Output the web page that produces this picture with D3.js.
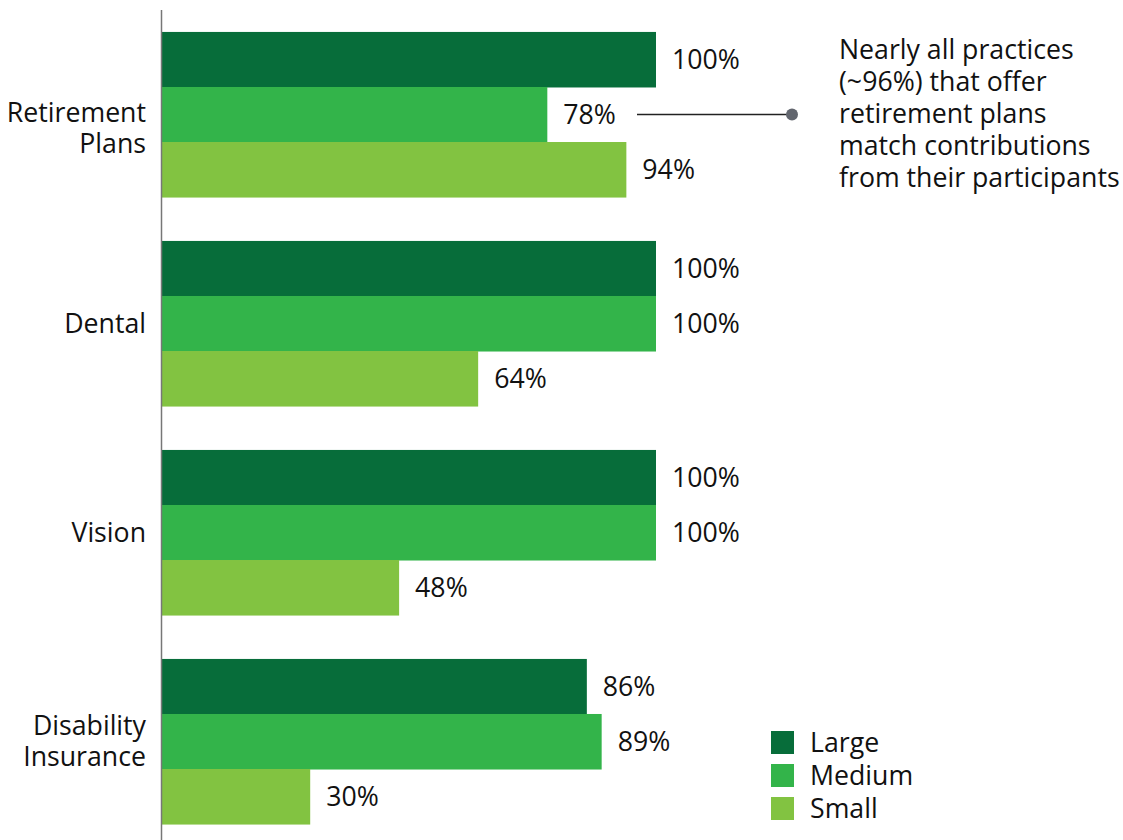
<!DOCTYPE html>
<html><head><meta charset="utf-8">
<script src="https://cdn.jsdelivr.net/npm/d3@7"></script>
<style>body{margin:0;background:#fff}svg{display:block;font-family:"Open Sans",sans-serif}</style>
</head><body>
<svg id="c" width="1123" height="840"></svg>
<script>
const categories = [["Retirement","Plans"],["Dental"],["Vision"],["Disability","Insurance"]];
const catKeys = ["Retirement Plans","Dental","Vision","Disability Insurance"];
const series = ["Large","Medium","Small"];
const large = [100,100,100,86];
const medium = [78,100,100,89];
const small = [94,64,48,30];
const colors = ["#076d3a","#33b44a","#82c341"];
const annotation = ["Nearly all practices","(~96%) that offer","retirement plans","match contributions","from their participants"];

const values = [large, medium, small];
const FS = 26.7;
const svg = d3.select("#c");
const x = d3.scaleLinear().domain([0,100]).range([162,656]);
const y = d3.scaleBand().domain(catKeys).range([10,846]).paddingInner(0.21).paddingOuter(0.105);
const ys = d3.scaleBand().domain(series).range([0,y.bandwidth()]);

const rows = [];
catKeys.forEach((c,i)=>series.forEach((s,j)=>rows.push({c,s,j,v:values[j][i]})));

svg.selectAll("rect.bar").data(rows).enter().append("rect")
  .attr("x", x(0)).attr("y", d=>y(d.c)+ys(d.s))
  .attr("width", d=>x(d.v)-x(0)).attr("height", ys.bandwidth()+0.5)
  .attr("fill", d=>colors[d.j]);

svg.selectAll("text.val").data(rows).enter().append("text")
  .attr("x", d=>x(d.v)+16).attr("y", d=>y(d.c)+ys(d.s)+ys.bandwidth()/2)
  .attr("dy","0.35em").attr("font-size",FS).attr("fill","#111")
  .text(d=>d.v+"%");

svg.append("line").attr("x1",161.5).attr("x2",161.5).attr("y1",10).attr("y2",840)
  .attr("stroke","#777").attr("stroke-width",1.5);

catKeys.forEach((c,i)=>{
  const lines = categories[i];
  const cy = y(c)+y.bandwidth()/2 + (i===0 ? 14 : 0);
  const t = svg.append("text").attr("x",146).attr("text-anchor","end").attr("font-size",FS).attr("fill","#111");
  lines.forEach((l,k)=>{
    t.append("tspan").attr("x",146).attr("y", cy + (k-(lines.length-1)/2)*31).attr("dy","0.35em").text(l);
  });
});

// annotation
const ay = y(catKeys[0]) + ys("Medium") + ys.bandwidth()/2;
svg.append("line").attr("x1",637).attr("x2",792).attr("y1",ay).attr("y2",ay).attr("stroke","#222").attr("stroke-width",1.5);
svg.append("circle").attr("cx",792).attr("cy",ay).attr("r",6).attr("fill","#62666e");
const at = svg.append("text").attr("font-size",FS).attr("fill","#111");
annotation.forEach((l,k)=>at.append("tspan").attr("x",839).attr("y",50+k*32).attr("dy","0.35em").text(l));

// legend
const lg = svg.append("g").attr("transform","translate(771,731)");
series.forEach((s,j)=>{
  lg.append("rect").attr("x",0).attr("y",j*33).attr("width",23).attr("height",23).attr("fill",colors[j]);
  lg.append("text").attr("x",39).attr("y",j*33+11.5).attr("dy","0.35em").attr("font-size",FS).attr("fill","#111").text(s);
});
</script>
</body></html>
